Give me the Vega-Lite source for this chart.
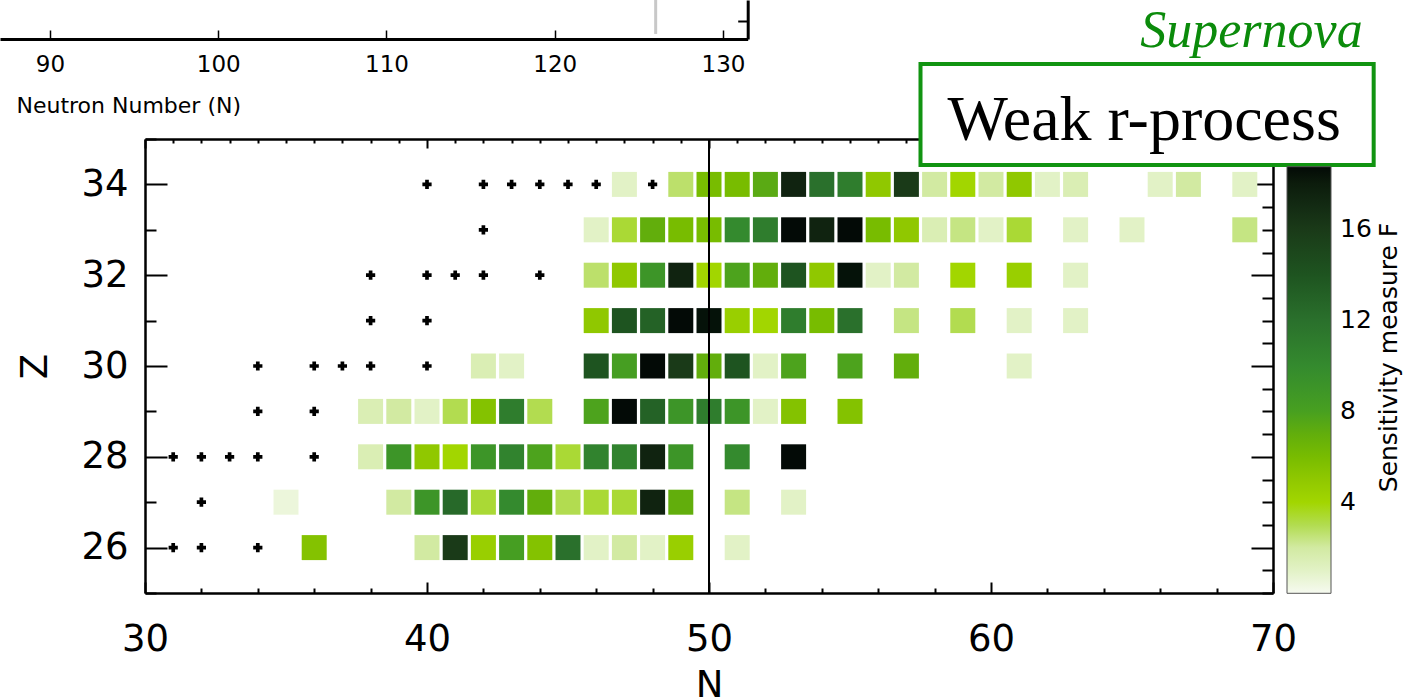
{
  "$schema": "https://vega.github.io/schema/vega-lite/v6.json",
  "autosize": {"type": "none"},
  "width": 1128,
  "height": 454,
  "padding": {"left": 145, "top": 139, "right": 139, "bottom": 107},
  "background": "white",
  "config": {
    "view": {"stroke": null},
    "axis": {"grid": false, "domainColor": "black", "tickColor": "black", "labelColor": "black", "titleColor": "black", "labelFont": "DejaVu Sans", "titleFont": "DejaVu Sans", "titleFontWeight": "normal", "zindex": 0},
    "legend": {"gradientVerticalMaxLength": 600, "gradientVerticalMinLength": 10}
  },
  "datasets": {
    "cells": [
      {"N":47,"Z":34,"F":1},{"N":49,"Z":34,"F":2.7},{"N":50,"Z":34,"F":6},{"N":51,"Z":34,"F":6},{"N":52,"Z":34,"F":7.3},{"N":53,"Z":34,"F":17.5},{"N":54,"Z":34,"F":12},{"N":55,"Z":34,"F":11},{"N":56,"Z":34,"F":5},{"N":57,"Z":34,"F":16},{"N":58,"Z":34,"F":2},{"N":59,"Z":34,"F":4},{"N":60,"Z":34,"F":2},{"N":61,"Z":34,"F":5},{"N":62,"Z":34,"F":1},{"N":63,"Z":34,"F":1.5},{"N":66,"Z":34,"F":1},{"N":67,"Z":34,"F":2},{"N":69,"Z":34,"F":1},
      {"N":46,"Z":33,"F":1},{"N":47,"Z":33,"F":3.5},{"N":48,"Z":33,"F":7},{"N":49,"Z":33,"F":6},{"N":50,"Z":33,"F":6},{"N":51,"Z":33,"F":10},{"N":52,"Z":33,"F":11},{"N":53,"Z":33,"F":19.5},{"N":54,"Z":33,"F":17.5},{"N":55,"Z":33,"F":19.5},{"N":56,"Z":33,"F":6},{"N":57,"Z":33,"F":5},{"N":58,"Z":33,"F":1.5},{"N":59,"Z":33,"F":2.4},{"N":60,"Z":33,"F":1},{"N":61,"Z":33,"F":3.5},{"N":63,"Z":33,"F":1},{"N":65,"Z":33,"F":1},{"N":69,"Z":33,"F":2.4},
      {"N":46,"Z":32,"F":2.7},{"N":47,"Z":32,"F":5},{"N":48,"Z":32,"F":9},{"N":49,"Z":32,"F":17.5},{"N":50,"Z":32,"F":4},{"N":51,"Z":32,"F":7.8},{"N":52,"Z":32,"F":7},{"N":53,"Z":32,"F":14},{"N":54,"Z":32,"F":5},{"N":55,"Z":32,"F":18.5},{"N":56,"Z":32,"F":1},{"N":57,"Z":32,"F":2},{"N":59,"Z":32,"F":4},{"N":61,"Z":32,"F":4.5},{"N":63,"Z":32,"F":1},
      {"N":46,"Z":31,"F":5},{"N":47,"Z":31,"F":14},{"N":48,"Z":31,"F":13},{"N":49,"Z":31,"F":19.5},{"N":50,"Z":31,"F":18.5},{"N":51,"Z":31,"F":4.5},{"N":52,"Z":31,"F":4},{"N":53,"Z":31,"F":11},{"N":54,"Z":31,"F":6},{"N":55,"Z":31,"F":12},{"N":57,"Z":31,"F":2.4},{"N":59,"Z":31,"F":3},{"N":61,"Z":31,"F":1},{"N":63,"Z":31,"F":1},
      {"N":42,"Z":30,"F":1.5},{"N":43,"Z":30,"F":1},{"N":46,"Z":30,"F":14},{"N":47,"Z":30,"F":8.2},{"N":48,"Z":30,"F":19.5},{"N":49,"Z":30,"F":16},{"N":50,"Z":30,"F":7},{"N":51,"Z":30,"F":14},{"N":52,"Z":30,"F":1},{"N":53,"Z":30,"F":7.8},{"N":55,"Z":30,"F":7.8},{"N":57,"Z":30,"F":7},{"N":61,"Z":30,"F":1},
      {"N":38,"Z":29,"F":1.5},{"N":39,"Z":29,"F":2},{"N":40,"Z":29,"F":1},{"N":41,"Z":29,"F":3},{"N":42,"Z":29,"F":5.5},{"N":43,"Z":29,"F":11},{"N":44,"Z":29,"F":3},{"N":46,"Z":29,"F":7.8},{"N":47,"Z":29,"F":19.5},{"N":48,"Z":29,"F":13},{"N":49,"Z":29,"F":9},{"N":50,"Z":29,"F":11},{"N":51,"Z":29,"F":9},{"N":52,"Z":29,"F":1},{"N":53,"Z":29,"F":5.5},{"N":55,"Z":29,"F":5.5},
      {"N":38,"Z":28,"F":1.5},{"N":39,"Z":28,"F":9},{"N":40,"Z":28,"F":5},{"N":41,"Z":28,"F":4},{"N":42,"Z":28,"F":9},{"N":43,"Z":28,"F":10.5},{"N":44,"Z":28,"F":7.8},{"N":45,"Z":28,"F":3.5},{"N":46,"Z":28,"F":10.5},{"N":47,"Z":28,"F":10.5},{"N":48,"Z":28,"F":17.5},{"N":49,"Z":28,"F":9},{"N":51,"Z":28,"F":10},{"N":53,"Z":28,"F":19.5},
      {"N":35,"Z":27,"F":0.5},{"N":39,"Z":27,"F":2},{"N":40,"Z":27,"F":9},{"N":41,"Z":27,"F":12.5},{"N":42,"Z":27,"F":3.5},{"N":43,"Z":27,"F":10},{"N":44,"Z":27,"F":7},{"N":45,"Z":27,"F":3},{"N":46,"Z":27,"F":3.5},{"N":47,"Z":27,"F":3.5},{"N":48,"Z":27,"F":17.5},{"N":49,"Z":27,"F":7},{"N":51,"Z":27,"F":2.4},{"N":53,"Z":27,"F":1},
      {"N":36,"Z":26,"F":5.5},{"N":40,"Z":26,"F":2},{"N":41,"Z":26,"F":16},{"N":42,"Z":26,"F":4.5},{"N":43,"Z":26,"F":8.2},{"N":44,"Z":26,"F":5.5},{"N":45,"Z":26,"F":12},{"N":46,"Z":26,"F":1},{"N":47,"Z":26,"F":2},{"N":48,"Z":26,"F":1},{"N":49,"Z":26,"F":4.5},{"N":51,"Z":26,"F":1}
    ],
    "stable": [
      {"N":40,"Z":34},{"N":42,"Z":34},{"N":43,"Z":34},{"N":44,"Z":34},{"N":45,"Z":34},{"N":46,"Z":34},{"N":48,"Z":34},
      {"N":42,"Z":33},
      {"N":38,"Z":32},{"N":40,"Z":32},{"N":41,"Z":32},{"N":42,"Z":32},{"N":44,"Z":32},
      {"N":38,"Z":31},{"N":40,"Z":31},
      {"N":34,"Z":30},{"N":36,"Z":30},{"N":37,"Z":30},{"N":38,"Z":30},{"N":40,"Z":30},
      {"N":34,"Z":29},{"N":36,"Z":29},
      {"N":31,"Z":28},{"N":32,"Z":28},{"N":33,"Z":28},{"N":34,"Z":28},{"N":36,"Z":28},
      {"N":32,"Z":27},
      {"N":31,"Z":26},{"N":32,"Z":26},{"N":34,"Z":26}
    ]
  },
  "resolve": {"scale": {"x": "independent", "y": "independent"}, "axis": {"x": "independent", "y": "independent"}},
  "layer": [
    {
      "layer": [
        {
          "data": {"name": "cells"},
          "mark": {"type": "square", "size": 625, "filled": true, "opacity": 1, "strokeWidth": 0},
          "encoding": {
            "x": {"field": "N", "type": "quantitative", "scale": {"domain": [30, 70], "nice": false, "zero": false},
              "axis": {"orient": "bottom", "values": [30,31,32,33,34,35,36,37,38,39,40,41,42,43,44,45,46,47,48,49,50,51,52,53,54,55,56,57,58,59,60,61,62,63,64,65,66,67,68,69,70],
                "tickSize": {"condition": {"test": "datum.value % 10 === 0", "value": -11}, "value": -5},
                "tickWidth": 2, "domainWidth": 2.5,
                "labelExpr": "datum.value % 10 === 0 ? datum.label : ''", "labelOverlap": false, "labelFlush": false,
                "labelFontSize": 37, "labelPadding": 39,
                "title": "N", "titleFontSize": 37, "titleX": 564, "titleY": 92, "titleAlign": "center", "titleBaseline": "middle"}},
            "y": {"field": "Z", "type": "quantitative", "scale": {"domain": [25, 35], "nice": false, "zero": false},
              "axis": {"orient": "left", "values": [25,25.5,26,26.5,27,27.5,28,28.5,29,29.5,30,30.5,31,31.5,32,32.5,33,33.5,34,34.5,35],
                "tickSize": {"condition": {"test": "datum.value % 2 === 0", "value": -22}, "value": -11},
                "tickWidth": 2, "domainWidth": 2.5,
                "labelExpr": "datum.value % 2 === 0 ? datum.label : ''", "labelOverlap": false, "labelFlush": false,
                "labelFontSize": 37, "labelPadding": 39,
                "title": "Z", "titleFontSize": 37, "titleX": -110, "titleY": 227, "titleAngle": -90, "titleAlign": "center", "titleBaseline": "middle"}},
            "color": {"field": "F", "type": "quantitative",
              "scale": {"domain": [0, 1, 2, 3, 4, 5, 6, 7, 8, 10, 12, 14, 16, 18, 18.75],
                "range": ["#f6faf0", "#e2f2c6", "#d2eaa2", "#b2dc50", "#a2d600", "#90c800", "#78bc00", "#62ae0c", "#48a020", "#348a2e", "#2a702c", "#1e5420", "#1a3a18", "#0c1c0c", "#030a06"],
                "clamp": true},
              "legend": {"orient": "none", "legendX": 1142, "legendY": 27.7, "direction": "vertical", "gradientLength": 426.6, "gradientThickness": 44,
                "gradientStrokeColor": "#555555", "gradientStrokeWidth": 1, "values": [4, 8, 12, 16],
                "labelFontSize": 25, "labelFont": "DejaVu Sans", "labelColor": "black", "labelOffset": 9, "labelOverlap": false,
                "title": null, "padding": 0}}
          }
        },
        {
          "data": {"name": "stable"},
          "mark": {"type": "point", "shape": "cross", "size": 85, "filled": true, "color": "black", "opacity": 1},
          "encoding": {
            "x": {"field": "N", "type": "quantitative"},
            "y": {"field": "Z", "type": "quantitative"}
          }
        },
        {
          "data": {"values": [{"N": 50}]},
          "mark": {"type": "rule", "color": "black", "strokeWidth": 2},
          "encoding": {"x": {"field": "N", "type": "quantitative"}}
        },
        {
          "data": {"values": [{"label": "Weak r-process"}]},
          "mark": {"type": "rect", "fill": "white", "stroke": "#119411", "strokeWidth": 4},
          "encoding": {
            "x": {"datum": 57.5, "type": "quantitative"},
            "x2": {"datum": 73.57},
            "y": {"datum": 36.65, "type": "quantitative"},
            "y2": {"datum": 34.43}
          }
        },
        {
          "data": {"values": [{"label": "Weak r-process"}]},
          "mark": {"type": "text", "font": "Liberation Serif", "fontSize": 64, "color": "black", "align": "center", "baseline": "alphabetic"},
          "encoding": {
            "x": {"datum": 65.43, "type": "quantitative"},
            "y": {"datum": 34.98, "type": "quantitative"},
            "text": {"field": "label"}
          }
        },
        {
          "data": {"values": [{"label": "Supernova"}]},
          "mark": {"type": "text", "font": "Liberation Serif", "fontSize": 52, "fontStyle": "italic", "color": "#0b8b0b", "align": "right", "baseline": "alphabetic"},
          "encoding": {
            "x": {"datum": 73.18, "type": "quantitative"},
            "y": {"datum": 37.02, "type": "quantitative"},
            "text": {"field": "label"}
          }
        }
      ]
    },
    {
      "data": {"name": "stable"},
      "mark": {"type": "point", "opacity": 0},
      "encoding": {
        "x": {"field": "N", "type": "quantitative", "scale": {"domain": [30, 70], "nice": false, "zero": false},
          "axis": {"orient": "top", "values": [30,31,32,33,34,35,36,37,38,39,40,41,42,43,44,45,46,47,48,49,50,51,52,53,54,55,56,57,58,59,60,61,62,63,64,65,66,67,68,69,70],
            "tickSize": {"condition": {"test": "datum.value % 10 === 0", "value": -9}, "value": -4},
            "tickWidth": 2, "domainWidth": 2.5, "labels": false, "title": null}},
        "y": {"field": "Z", "type": "quantitative", "scale": {"domain": [25, 35], "nice": false, "zero": false},
          "axis": {"orient": "right", "values": [25,25.5,26,26.5,27,27.5,28,28.5,29,29.5,30,30.5,31,31.5,32,32.5,33,33.5,34,34.5,35],
            "tickSize": {"condition": {"test": "datum.value % 2 === 0", "value": -22}, "value": -11},
            "tickWidth": 2, "domainWidth": 2.5, "labels": false,
            "title": "Sensitivity measure F", "titleFontSize": 25, "titleX": 115, "titleY": 218, "titleAngle": -90, "titleAlign": "center", "titleBaseline": "middle"}}
      }
    },
    {
      "data": {"values": [{"N": 126}]},
      "mark": {"type": "rule", "color": "#c8c8c8", "strokeWidth": 3},
      "encoding": {
        "x": {"field": "N", "type": "quantitative", "scale": {"domain": [87.03, 131.47], "range": [-145, 602.7], "nice": false, "zero": false},
          "axis": {"orient": "bottom", "offset": -554, "values": [90, 100, 110, 120, 130], "tickSize": -9, "tickWidth": 1.5, "domainWidth": 3,
            "labelFontSize": 23, "labelPadding": 23, "labelFlush": false,
            "title": "Neutron Number (N)", "titleFontSize": 22, "titleX": -129, "titleY": 66, "titleAlign": "left", "titleBaseline": "middle"}},
        "y": {"datum": 0.13, "type": "quantitative", "scale": {"domain": [0, 1], "range": [-100, -139], "nice": false, "zero": false},
          "axis": {"orient": "right", "offset": -525.3, "values": [0.47], "tickSize": -10, "tickWidth": 2, "domainWidth": 3, "labels": false, "title": null}},
        "y2": {"datum": 1}
      }
    }
  ]
}
